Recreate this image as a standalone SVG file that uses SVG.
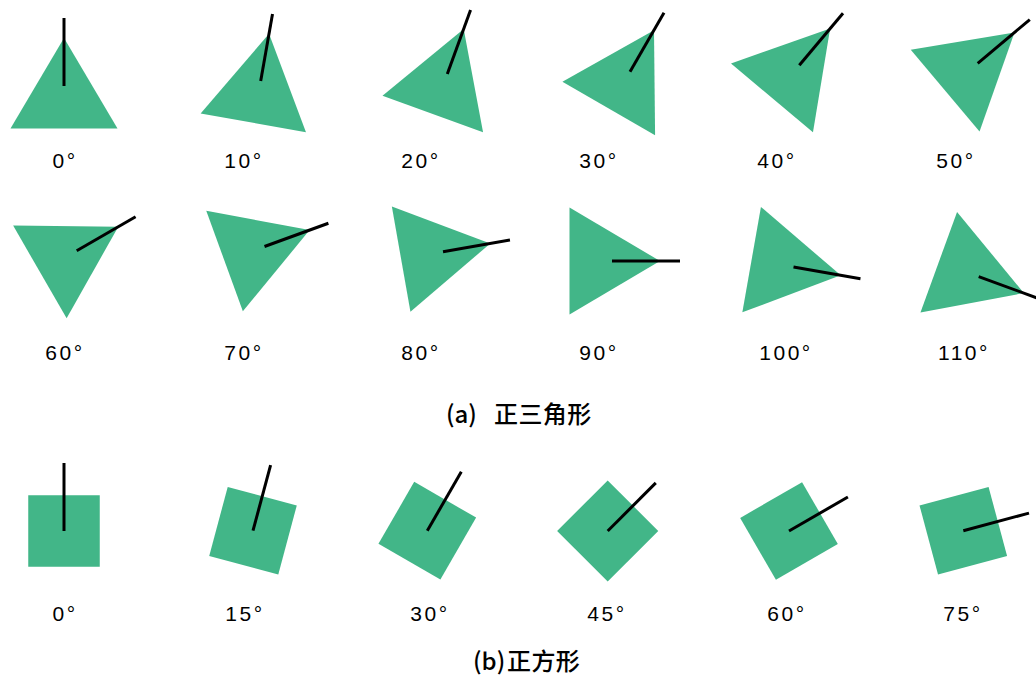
<svg xmlns="http://www.w3.org/2000/svg" width="1036" height="677" viewBox="0 0 1036 677">
<style>
.shape{fill:#42b688;stroke:none}
.axis{stroke:#000;stroke-width:3;fill:none}
.lbl{font-family:"Liberation Sans",Arial,sans-serif;font-size:21px;fill:#000;text-anchor:middle;letter-spacing:2.5px}
.cap{font-family:"Noto Sans CJK SC","Noto Sans",sans-serif;font-size:24px;font-weight:500;fill:#000}
</style>
<defs>
<path id="tri" d="M0,-48 L53.5,42.5 L-53.5,42.5 Z"/>
<rect id="sq" x="-35.75" y="-35.75" width="71.5" height="71.5"/>
<line id="ax" x1="0" y1="0" x2="0" y2="-68"/>
</defs>
<rect width="1036" height="677" fill="#fff"/>
<g id="triangles">
<g id="t0" transform="translate(64,86) rotate(0)"><use href="#tri" class="shape"/><use href="#ax" class="axis"/></g>
<g id="t10" transform="translate(260.7,81) rotate(10)"><use href="#tri" class="shape"/><use href="#ax" class="axis"/></g>
<g id="t20" transform="translate(447.3,74) rotate(20)"><use href="#tri" class="shape"/><use href="#ax" class="axis"/></g>
<g id="t30" transform="translate(630,71.7) rotate(30)"><use href="#tri" class="shape"/><use href="#ax" class="axis"/></g>
<g id="t40" transform="translate(799.3,65.3) rotate(40)"><use href="#tri" class="shape"/><use href="#ax" class="axis"/></g>
<g id="t50" transform="translate(977.7,63.3) rotate(50)"><use href="#tri" class="shape"/><use href="#ax" class="axis"/></g>
<g id="t60" transform="translate(76.7,250.7) rotate(60)"><use href="#tri" class="shape"/><use href="#ax" class="axis"/></g>
<g id="t70" transform="translate(264.5,246.5) rotate(70)"><use href="#tri" class="shape"/><use href="#ax" class="axis"/></g>
<g id="t80" transform="translate(443,251.8) rotate(80)"><use href="#tri" class="shape"/><use href="#ax" class="axis"/></g>
<g id="t90" transform="translate(612,261) rotate(90)"><use href="#tri" class="shape"/><use href="#ax" class="axis"/></g>
<g id="t100" transform="translate(793.5,267) rotate(100)"><use href="#tri" class="shape"/><use href="#ax" class="axis"/></g>
<g id="t110" transform="translate(978.7,276.7) rotate(110)"><use href="#tri" class="shape"/><use href="#ax" class="axis"/></g>
</g>
<g id="squares">
<g id="s0" transform="translate(64,531) rotate(0)"><use href="#sq" class="shape"/><use href="#ax" class="axis"/></g>
<g id="s15" transform="translate(253,530.7) rotate(15)"><use href="#sq" class="shape"/><use href="#ax" class="axis"/></g>
<g id="s30" transform="translate(427.3,530.7) rotate(30)"><use href="#sq" class="shape"/><use href="#ax" class="axis"/></g>
<g id="s45" transform="translate(607.7,531) rotate(45)"><use href="#sq" class="shape"/><use href="#ax" class="axis"/></g>
<g id="s60" transform="translate(789,531) rotate(60)"><use href="#sq" class="shape"/><use href="#ax" class="axis"/></g>
<g id="s75" transform="translate(963.3,530.7) rotate(75)"><use href="#sq" class="shape"/><use href="#ax" class="axis"/></g>
</g>
<g id="labels">
<text class="lbl" x="65" y="168">0°</text>
<text class="lbl" x="244" y="168">10°</text>
<text class="lbl" x="421" y="168">20°</text>
<text class="lbl" x="599" y="168">30°</text>
<text class="lbl" x="777" y="168">40°</text>
<text class="lbl" x="956" y="168">50°</text>
<text class="lbl" x="65" y="359.5">60°</text>
<text class="lbl" x="244" y="359.5">70°</text>
<text class="lbl" x="421" y="359.5">80°</text>
<text class="lbl" x="599" y="359.5">90°</text>
<text class="lbl" x="786" y="359.5">100°</text>
<text class="lbl" x="964" y="359.5">110°</text>
<text class="lbl" x="65" y="620.5">0°</text>
<text class="lbl" x="245" y="620.5">15°</text>
<text class="lbl" x="430" y="620.5">30°</text>
<text class="lbl" x="607" y="620.5">45°</text>
<text class="lbl" x="787" y="620.5">60°</text>
<text class="lbl" x="963" y="620.5">75°</text>
</g>
<g id="captions">
<text class="cap" y="422.5"><tspan x="446">(a)</tspan><tspan x="494" letter-spacing="0.4">正三角形</tspan></text>
<text class="cap" y="670"><tspan x="473">(b)</tspan><tspan x="507" letter-spacing="0.4">正方形</tspan></text>
</g>
</svg>
